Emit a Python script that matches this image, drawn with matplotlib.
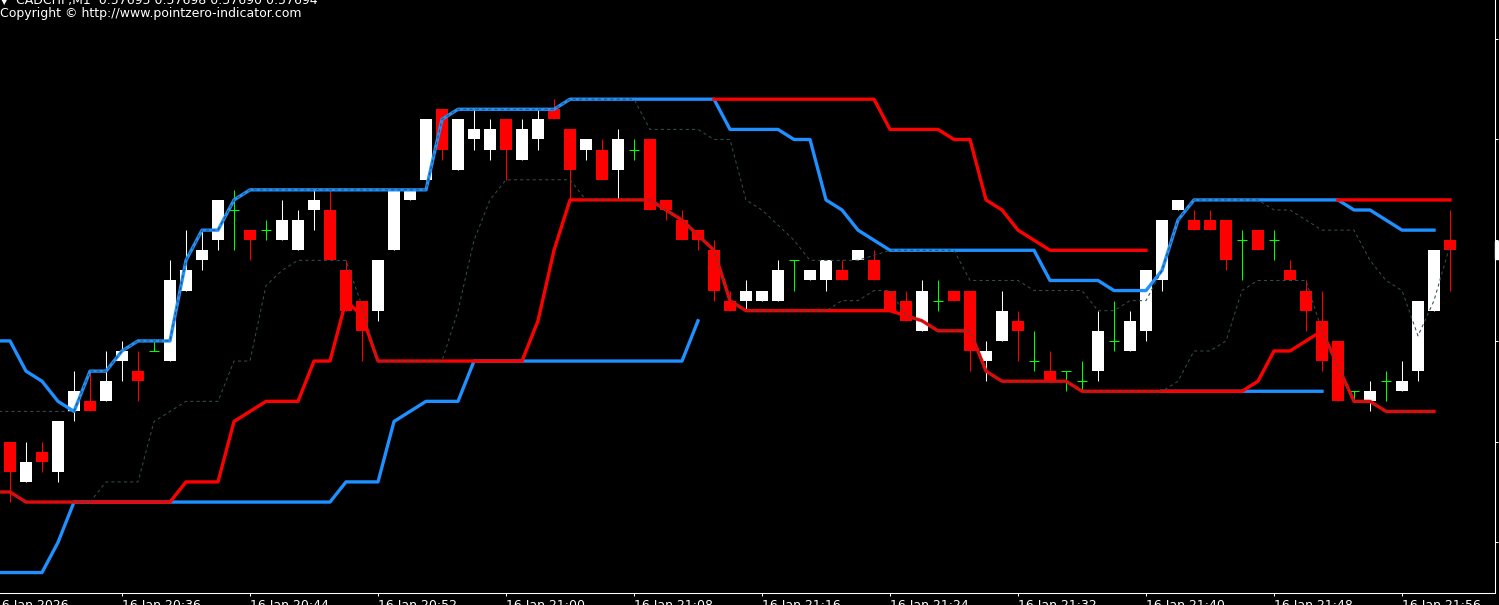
import numpy as np
import matplotlib.pyplot as plt
from matplotlib.patches import Rectangle

plt.rcParams['font.family'] = ['DejaVu Sans']

# prices are stored as points above 0.57600 (1 point = 0.00001)
BASE = 0.57600
POINT = 0.00001

# CADCHF M1 candles, bar 0 = 20:29 ... bar 90 = 21:59
opens = [75, 71, 74, 72, 78, 79, 79, 83, 82, 84,
         83, 90, 93, 95, 98, 96, 96, 95, 94, 98,
         98, 92, 89, 88, 94, 99, 101, 108, 102, 105,
         104, 107, 103, 105, 108, 106, 104, 104, 102, 104,
         105, 99, 97, 96, 94, 89, 89, 89, 89, 93,
         91, 91, 92, 93, 93, 90, 89, 86, 89, 90,
         90, 83, 85, 87, 83, 82, 82, 81, 82, 85,
         84, 86, 91, 98, 97, 97, 97, 95, 96, 95,
         92, 90, 87, 85, 80, 79, 81, 80, 82, 88,
         95]
highs = [75, 75, 75, 77, 82, 82, 84, 85, 84, 85,
         93, 96, 96, 99, 100, 96, 97, 99, 98, 100,
         100, 93, 89, 93, 100, 100, 107, 108, 107, 108,
         107, 107, 107, 108, 109, 106, 105, 105, 106, 105,
         105, 99, 98, 96, 95, 90, 91, 90, 93, 93,
         92, 93, 93, 94, 94, 90, 90, 91, 91, 90,
         90, 85, 90, 88, 86, 84, 82, 83, 88, 89,
         88, 92, 97, 99, 98, 98, 97, 96, 96, 96,
         93, 91, 90, 85, 80, 81, 82, 83, 89, 94,
         98]
lows = [69, 71, 72, 71, 77, 78, 79, 81, 79, 84,
        83, 90, 92, 94, 94, 93, 95, 95, 94, 96,
        93, 88, 83, 87, 94, 99, 101, 103, 102, 104,
        103, 101, 103, 104, 107, 99, 103, 101, 99, 103,
        98, 97, 95, 94, 89, 88, 88, 89, 89, 90,
        91, 90, 91, 93, 91, 88, 87, 86, 88, 89,
        82, 81, 85, 83, 82, 81, 80, 80, 81, 84,
        84, 85, 90, 98, 96, 96, 92, 91, 94, 93,
        91, 86, 82, 79, 79, 78, 79, 80, 81, 88,
        90]
closes = [72, 73, 73, 77, 80, 78, 81, 84, 81, 84,
          91, 92, 94, 99, 98, 95, 96, 97, 97, 99,
          93, 88, 86, 93, 100, 100, 107, 104, 107, 106,
          106, 104, 106, 107, 107, 102, 105, 101, 105, 104,
          98, 98, 95, 95, 90, 88, 90, 90, 92, 93,
          92, 93, 91, 94, 91, 88, 87, 90, 89, 89,
          84, 84, 88, 86, 83, 81, 82, 81, 86, 85,
          87, 92, 97, 99, 96, 96, 93, 95, 94, 95,
          91, 88, 83, 79, 80, 80, 81, 81, 89, 94,
          94]

# indicator lines, values for bars -1 ... 90 (None = not drawn)
upper_band = [85, 85, 82, 81, 79, 78, 82, 82, 84, 85,
              85, 85, 93, 96, 96, 99, 100, 100, 100, 100,
              100, 100, 100, 100, 100, 100, 100, 100, 107, 108,
              108, 108, 108, 108, 108, 108, 109, 109, 109, 109,
              109, 109, 109, 109, 109, 109, 106, 106, 106, 106,
              105, 105, 99, 98, 96, 95, 94, 94, 94, 94,
              94, 94, 94, 94, 94, 94, 91, 91, 91, 91,
              90, 90, 90, 92, 97, 99, 99, 99, 99, 99,
              99, 99, 99, 99, 99, 98, 98, 97, 96, 96,
              96, None]
lower_band = [70, 70, 69, 69, 69, 69, 69, 69, 69, 69,
              69, 69, 71, 71, 71, 77, 78, 79, 79, 79,
              83, 83, 89, 87.5, 83, 83, 83, 83, 83, 83,
              83, 83, 83, 83, 87, 94, 99, 99, 99, 99,
              99, 99, 98, 97, 95.5, 94, 89, 88, 88, 88,
              88, 88, 88, 88, 88, 88, 88, 87.5, 87, 86,
              86, 86, 82, 81, 81, 81, 81, 81, 80, 80,
              80, 80, 80, 80, 80, 80, 80, 80, 80, 81,
              84, 84, 85, 86, 82.5, 79, 79, 78, 78, 78,
              78, None]
shifted_lower = [62, 62, 62, 62, 65, 69, 69, 69, 69, 69,
                 69, 69, 69, 69, 69, 69, 69, 69, 69, 69,
                 69, 69, 71, 71, 71, 77, 78, 79, 79, 79,
                 83, 83, 83, 83, 83, 83, 83, 83, 83, 83,
                 83, 83, 83, 83, 87, None, None, None, None, None,
                 None, None, None, None, None, None, None, None, None, None,
                 None, None, None, None, None, None, None, None, None, None,
                 None, None, None, 80, 80, 80, 80, 80, 80, 80,
                 80, 80, 80, 80, None, None, None, None, None, None,
                 None, None]
shifted_upper = [None] * 45 + [109, 109, 109, 109, 109,
                               109, 109, 109, 109, 109, 109, 106, 106, 106, 106,
                               105, 105, 99, 98, 96, 95, 94, 94, 94, 94,
                               94, 94, 94] + [None] * 11 + [99] * 8
dash_upper = [78, 78, 78, 78, 78, 78, 82, 82, 84, 85,
              85, 85, 93, 96, 96, 99, 100, 100, 100, 100,
              100, 100, 100, 100, 100, 100, 100, 100, 107, 108,
              108, 108, 108, 108, 108, 108, 109, 109, 109, 109,
              109, 106, 106, 106, 106, 105, 105, 99, 98, 96.5,
              95, 93, 93, 93, 93, 93.5, 94, 94, 94, 94,
              94, 91, 91, 91, 91, 90, 90, 90, 90, 88,
              88, 89, 89, 92, 97, 99, 99, 99, 99, 99,
              98, 98, 97, 96, 96, 96, 93, 91, 90, 85.5,
              89, 94.5]
dash_lower = [70, 70, 69, 69, 69, 69, 69, 71, 71, 71,
              77, 78, 79, 79, 79, 83, 83, 90.5, 92, 93,
              93, 93, 93, 88.5, 83, 83, 83, 83, 83, 88,
              95, 99, 101, 101, 101, 101, 101, 99, 99, 99,
              99, 99, 98, 97, 95.5, 94, 89, 88, 88, 88,
              88, 88, 88, 89, 89, 90, 90, 87.5, 87, 86,
              86, 86, 82, 81, 81, 81, 81, 81, 80, 80,
              80, 80, 80, 80, 81, 84, 84, 85, 90, 91,
              91, 91, 91, 86, 82.5, 79, 79, 78, 78, 78,
              78, None]

x_labels = ['16 Jan 20:36', '16 Jan 20:44', '16 Jan 20:52', '16 Jan 21:00',
            '16 Jan 21:08', '16 Jan 21:16', '16 Jan 21:24', '16 Jan 21:32',
            '16 Jan 21:40', '16 Jan 21:48', '16 Jan 21:56']
x_label_bars = [7, 15, 23, 31, 39, 47, 55, 63, 71, 79, 87]


def to_price(vals):
    return np.array([np.nan if v is None else BASE + v * POINT for v in vals])


W, H = 1499, 605
fig = plt.figure(figsize=(W / 100, H / 100), dpi=100, facecolor='black')
ax = fig.add_axes([0, 12 / H, 1495 / W, 593 / H], facecolor='black')

o = to_price(opens)
h = to_price(highs)
l = to_price(lows)
c = to_price(closes)
for i in range(len(o)):
    if closes[i] > opens[i]:
        col = 'white'
    elif closes[i] < opens[i]:
        col = '#FF0000'
    else:
        col = '#00FF00'
    ax.vlines(i, l[i], h[i], color=col, lw=0.75, zorder=2)
    if closes[i] == opens[i]:
        ax.hlines(o[i], i - 0.34, i + 0.34, color=col, lw=0.75, zorder=2)
    else:
        ax.bar(i, c[i] - o[i], bottom=o[i], width=0.69, color=col, lw=0, zorder=2)

x_line = np.arange(-1, 91)
ax.plot(x_line, to_price(shifted_lower), color='#1E90FF', lw=2.4, zorder=3)
ax.plot(x_line, to_price(upper_band), color='#1E90FF', lw=2.4, zorder=3)
ax.plot(x_line, to_price(shifted_upper), color='#FF0000', lw=2.4, zorder=4)
ax.plot(x_line, to_price(lower_band), color='#FF0000', lw=2.4, zorder=4)
ax.plot(x_line, to_price(dash_upper), color='#2F4F4F', lw=0.75, ls=(0, (3, 3)), zorder=5)
ax.plot(x_line, to_price(dash_lower), color='#2F4F4F', lw=0.75, ls=(0, (3, 3)), zorder=5)

ax.set_xlim(-0.625, 92.8125)
ax.set_ylim(BASE + 59.97 * POINT, BASE + 118.85 * POINT)

for side in ['top', 'left']:
    ax.spines[side].set_visible(False)
for side in ['bottom', 'right']:
    ax.spines[side].set_color('white')
    ax.spines[side].set_linewidth(0.75)

ax.set_xticks(x_label_bars)
ax.set_xticklabels(x_labels)
for lbl in ax.get_xticklabels():
    lbl.set_ha('left')
ax.tick_params(axis='x', colors='white', length=2.2, width=0.75, pad=2, labelsize=9)
ax.annotate('16 Jan 2026', xy=(-1, 0), xycoords=('data', 'axes fraction'),
            xytext=(0, -4.2), textcoords='offset points', ha='left', va='top',
            color='white', fontsize=9, annotation_clip=False)

ax.yaxis.tick_right()
ax.set_yticks([BASE + v * POINT for v in [65, 75, 85, 95, 105, 115]])
ax.tick_params(axis='y', colors='white', length=2.2, width=0.75, labelright=False)

# header texts
fig.text(1 / W, 1 - 4 / H, '\u25bc', color='white', fontsize=6, va='baseline')
fig.text(16 / W, 1 - 4 / H, 'CADCHF,M1  0.57695 0.57698 0.57690 0.57694',
         color='white', fontsize=9, va='baseline')
fig.text(0, 1 - 17 / H, 'Copyright \u00a9 http://www.pointzero-indicator.com',
         color='white', fontsize=9, va='baseline')

# bid price tag at the right edge
fig.patches.append(Rectangle((1495 / W, 1 - 259 / H), 6 / W, 18 / H,
                             transform=fig.transFigure, color='white'))

fig.savefig('out.png', dpi=100, facecolor='black')
